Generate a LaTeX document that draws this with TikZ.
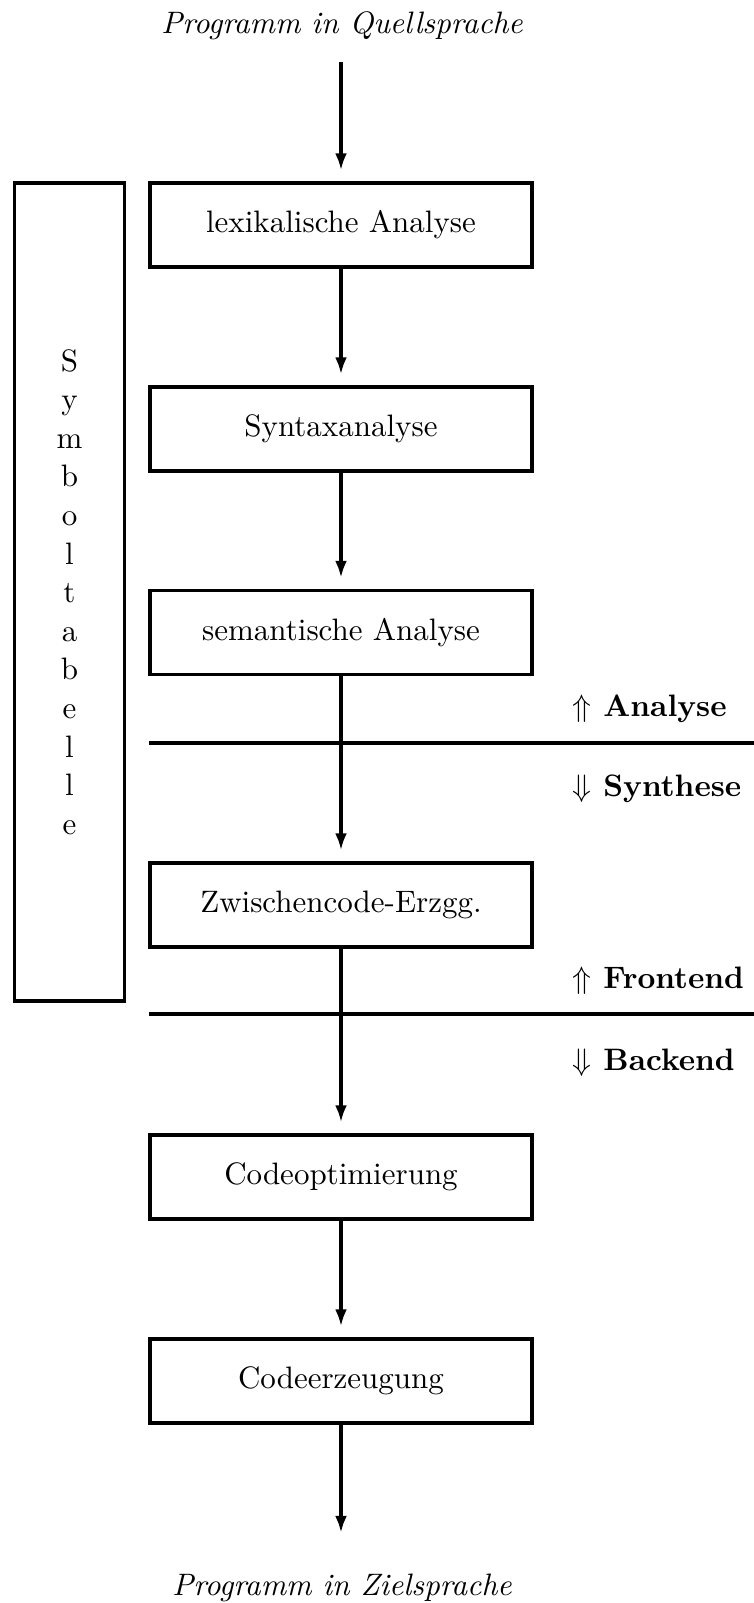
\documentclass[tikz,border=0pt]{standalone}
\usetikzlibrary{arrows.meta}
\begin{document}
\begin{tikzpicture}[x=0.3226pt,y=-0.3226pt,
  stepbox/.style={draw, line width=1.1pt, minimum width=123.2pt, minimum height=27.1pt, inner sep=0pt},
  symbox/.style={draw, line width=1.1pt, minimum width=35.6pt, minimum height=263.9pt, inner sep=0pt, align=center, font=\fontsize{10}{12.45}\selectfont},
  flow/.style={line width=1.1pt, -{Latex[length=5.5pt,width=3.8pt]}, shorten >=3.5pt},
  sepline/.style={line width=1.1pt},
  lbl/.style={anchor=base west, inner sep=0pt, font=\bfseries}]
\useasboundingbox (0,0) rectangle (754,1603);
\node (src) at (342,26) {\itshape Programm in Quellsprache};
\coordinate (srcend) at (341,62);
\node[stepbox] (lex) at (341,225) {lexikalische Analyse};
\node[stepbox] (syn) at (341,429) {Syntaxanalyse};
\node[stepbox] (sem) at (341,632.5) {semantische Analyse};
\node[stepbox] (zw) at (341,905) {Zwischencode-Erzgg.};
\node[stepbox] (opt) at (341,1177) {Codeoptimierung};
\node[stepbox] (cg) at (341,1381) {Codeerzeugung};
\coordinate (tgtend) at (341,1533);
\node (tgt) at (342,1588) {\itshape Programm in Zielsprache};
\node[symbox] (sym) at (69.5,592) {S\\y\\m\\b\\o\\l\\t\\a\\b\\e\\l\\l\\e};
\draw[flow] (srcend) -- (lex);
\draw[flow] (lex) -- (syn);
\draw[flow] (syn) -- (sem);
\draw[flow] (sem) -- (zw);
\draw[flow] (zw) -- (opt);
\draw[flow] (opt) -- (cg);
\draw[flow, shorten >=0pt] (cg) -- (tgtend);
\coordinate (l1a) at (149,743);
\coordinate (l1b) at (754,743);
\coordinate (l2a) at (149,1014);
\coordinate (l2b) at (754,1014);
\draw[sepline] (l1a) -- (l1b);
\draw[sepline] (l2a) -- (l2b);
\node[lbl] (ana) at (572,716) {$\Uparrow$ Analyse};
\node[lbl] (syn2) at (572,796) {$\Downarrow$ Synthese};
\node[lbl] (fe) at (572,988) {$\Uparrow$ Frontend};
\node[lbl] (be) at (572,1070) {$\Downarrow$ Backend};
\end{tikzpicture}
\end{document}
